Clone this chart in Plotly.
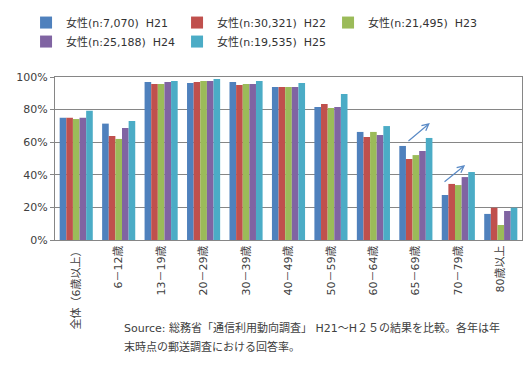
import plotly.graph_objects as go

categories = ["全体（6歳以上）", "6－12歳", "13－19歳", "20－29歳", "30－39歳",
              "40－49歳", "50－59歳", "60－64歳", "65－69歳", "70－79歳", "80歳以上"]

series_names = ["女性(n:7,070)  H21", "女性(n:30,321)  H22", "女性(n:21,495)  H23",
                "女性(n:25,188)  H24", "女性(n:19,535)  H25"]

h21 = [75.0, 71.4, 96.9, 96.3, 96.9, 93.9, 81.6, 66.3, 57.7, 27.6, 16.0]
h22 = [75.0, 63.8, 95.7, 96.9, 95.1, 93.9, 83.4, 63.2, 49.7, 34.4, 19.8]
h23 = [74.2, 62.0, 95.7, 97.5, 95.7, 93.9, 81.0, 66.3, 52.1, 33.7, 9.2]
h24 = [75.0, 68.7, 96.9, 97.5, 95.7, 93.9, 81.6, 64.4, 54.6, 38.6, 17.8]
h25 = [79.3, 73.0, 97.5, 98.8, 97.5, 96.3, 89.6, 69.9, 62.6, 41.7, 19.8]

y_ticks = [0, 20, 40, 60, 80, 100]
y_tick_labels = ["0%", "20%", "40%", "60%", "80%", "100%"]

colors = ["#4F81BD", "#C0504D", "#9BBB59", "#8064A2", "#4BACC6"]
FONT = "Verdana, DejaVu Sans, Noto Sans CJK JP"
TXT = "#404040"

fig = go.Figure()
for name, vals, c in zip(series_names, [h21, h22, h23, h24, h25], colors):
    fig.add_trace(go.Bar(x=categories, y=vals, name=name, marker_color=c,
                         marker_line_width=0))

# trend arrows (decorations), anchored on category index
arrows = [
    (categories.index("65－69歳"), -0.21, 60.0, 0.33, 71.8),
    (categories.index("70－79歳"), -0.36, 35.0, 0.16, 46.0),
]
for idx, dx0, y0, dx1, y1 in arrows:
    fig.add_annotation(x=idx + dx1, y=y1, ax=idx + dx0, ay=y0,
                       xref="x", yref="y", axref="x", ayref="y",
                       showarrow=True, arrowhead=5, arrowsize=1.1, arrowwidth=1.2,
                       arrowcolor="#5A8AC6", text="")

fig.add_annotation(text="Source: 総務省「通信利用動向調査」 H21～H２５の結果を比較。各年は年",
                   xref="paper", yref="paper", x=0.1435, y=-0.54,
                   xanchor="left", yanchor="middle", showarrow=False,
                   font=dict(family=FONT, size=11, color=TXT))
fig.add_annotation(text="末時点の郵送調査における回答率。",
                   xref="paper", yref="paper", x=0.1435, y=-0.657,
                   xanchor="left", yanchor="middle", showarrow=False,
                   font=dict(family=FONT, size=11, color=TXT))

fig.update_layout(
    width=529, height=365,
    margin=dict(l=55, r=7, t=77, b=125, autoexpand=False),
    paper_bgcolor="white", plot_bgcolor="white",
    barmode="group", bargap=0.22, bargroupgap=0.0,
    font=dict(family=FONT, size=11, color=TXT),
    showlegend=True,
    legend=dict(orientation="h", x=-0.062, y=1.423, xanchor="left", yanchor="top",
                entrywidth=106, entrywidthmode="pixels",
                font=dict(family=FONT, size=11, color="#333333"),
                itemwidth=30, tracegroupgap=0, traceorder="normal"),
)

fig.update_xaxes(type="category", tickangle=-90, showgrid=False, showline=True,
                 linecolor="#868686", linewidth=1, mirror=True, ticks="",
                 tickfont=dict(family=FONT, size=11, color=TXT))
fig.update_yaxes(range=[0, 100], tickmode="array", tickvals=y_ticks, ticktext=y_tick_labels,
                 showgrid=True, gridcolor="#868686", gridwidth=1, showline=True,
                 linecolor="#868686", linewidth=1, mirror=True, ticks="outside",
                 ticklen=4, tickcolor="#868686", zeroline=False,
                 tickfont=dict(family=FONT, size=11, color=TXT))

fig.write_html("out.html", config={"displayModeBar": False},
               post_script="document.body.style.margin='0';")
